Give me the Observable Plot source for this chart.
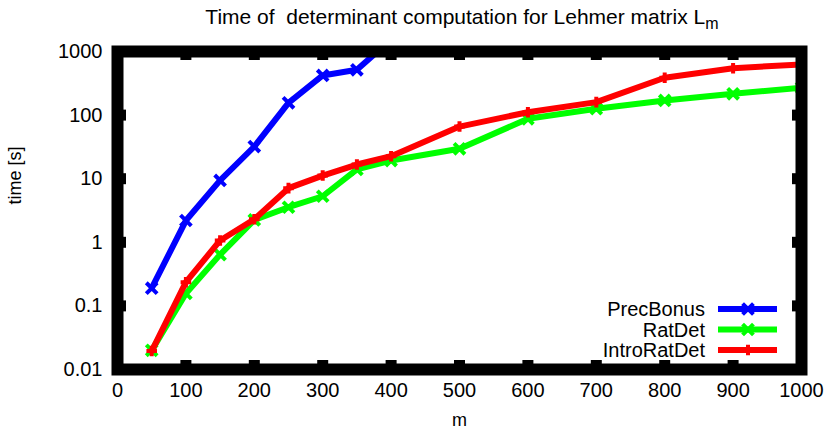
<!DOCTYPE html>
<html><head><meta charset="utf-8">
<script src="https://cdn.jsdelivr.net/npm/d3@7"></script>
<script src="https://cdn.jsdelivr.net/npm/@observablehq/plot@0.6"></script>
<style>
body{margin:0;background:#fff;}
svg{font-family:"Liberation Sans",Arial,Helvetica,sans-serif;}
</style>
</head><body><div id="chart"></div>
<script>
// ---- data ----
const precBonusM = [50,100,150,200,250,300,350,400];
const precBonus  = [0.19,2.2,9.4,32,156,420,515,1550];
const ratDetM    = [50,100,150,200,250,300,350,400,500,600,700,800,900,1000];
const ratDet     = [0.02,0.157,0.64,2.25,3.56,5.3,14,19.3,29.5,87.5,126,170,216,269];
const introM     = [50,100,150,200,250,300,350,400,500,600,700,800,900,1000];
const introRatDet= [0.0195,0.236,1.07,2.3,7.1,11.2,16.7,22.6,66,111,160,386,547,625];
const seriesNames  = ["PrecBonus","RatDet","IntroRatDet"];
const seriesColors = ["#0000ff","#00ff00","#ff0000"];
const seriesSymbols= ["times","times","plus"];
const xTicks = [0,100,200,300,400,500,600,700,800,900,1000];
const yTicks = [0.01,0.1,1,10,100,1000];
const yTickLabels = ["0.01","0.1","1","10","100","1000"];
const titleText = "Time of  determinant computation for Lehmer matrix L";
const titleSub = "m";
const xLabel = "m";
const yLabel = "time [s]";

const series = [
  precBonusM.map((m,i)=>({m, t: precBonus[i], s: seriesNames[0]})),
  ratDetM.map((m,i)=>({m, t: ratDet[i], s: seriesNames[1]})),
  introM.map((m,i)=>({m, t: introRatDet[i], s: seriesNames[2]}))
];

const W=827, H=430, ML=117, MR=26, MT=51, MB=61;
const frameH = H-MT-MB, frameW = W-ML-MR;
const tickLen = 9;
const font = 20;

const marks = [];
series.forEach((data,i)=>{
  marks.push(Plot.line(data,{x:"m",y:"t",stroke:seriesColors[i],strokeWidth:6,clip:true,strokeLinejoin:"miter",strokeLinecap:"butt"}));
  marks.push(Plot.dot(data,{x:"m",y:"t",stroke:seriesColors[i],symbol:seriesSymbols[i],r:i===2?3.5:5,strokeWidth:4,clip:true}));
});
marks.push(
  Plot.frame({stroke:"black",strokeWidth:12}),
  Plot.tickX(xTicks,{x:d=>d,stroke:"black",strokeWidth:11,insetBottom:frameH-tickLen}),
  Plot.tickX(xTicks,{x:d=>d,stroke:"black",strokeWidth:11,insetTop:frameH-tickLen}),
  Plot.tickY(yTicks,{y:d=>d,stroke:"black",strokeWidth:11,insetRight:frameW-tickLen}),
  Plot.tickY(yTicks,{y:d=>d,stroke:"black",strokeWidth:11,insetLeft:frameW-tickLen}),
  Plot.text(xTicks,{x:d=>d,text:d=>String(d),frameAnchor:"bottom",dy:27,fontSize:font,fill:"black"}),
  Plot.text(yTicks,{y:d=>d,text:(d,i)=>yTickLabels[i],frameAnchor:"left",dx:-15,textAnchor:"end",fontSize:font,fill:"black"}),
  Plot.text([yLabel],{text:d=>d,frameAnchor:"left",dx:-102,dy:-6,rotate:-90,fontSize:18,fill:"black"}),
  Plot.text([xLabel],{text:d=>d,frameAnchor:"bottom",dy:56,fontSize:18,fill:"black"})
);

const chart = Plot.plot({
  width:W,height:H,marginLeft:ML,marginRight:MR,marginTop:MT,marginBottom:MB,
  x:{domain:[0,1000],axis:null},
  y:{type:"log",domain:[0.01,1000],axis:null},
  style:{background:"white",fontFamily:'"Liberation Sans",Arial,sans-serif',overflow:"visible"},
  marks
});
document.getElementById("chart").appendChild(chart);

const svg = d3.select(chart);
// title with subscript
const t = svg.append("text")
  .attr("x",(ML+W-MR)/2+3).attr("y",24)
  .attr("text-anchor","middle").attr("font-size",21).attr("fill","black");
t.append("tspan").text(titleText);
t.append("tspan").attr("dy",5).attr("font-size",16).text(titleSub);

// legend
const lg = svg.append("g");
seriesNames.forEach((name,i)=>{
  const y = 309 + i*20.5;
  lg.append("text").attr("x",705).attr("y",y).attr("dy","0.35em")
    .attr("text-anchor","end").attr("font-size",font).attr("fill","black").text(name);
  lg.append("line").attr("x1",718).attr("x2",777).attr("y1",y).attr("y2",y)
    .attr("stroke",seriesColors[i]).attr("stroke-width",6);
  const r = i===2?3.5:5;
  const sym = seriesSymbols[i]==="plus"?d3.symbolPlus:d3.symbolTimes;
  lg.append("path").attr("transform",`translate(748,${y})`)
    .attr("d",d3.symbol(sym,Math.PI*r*r)()).attr("fill","none")
    .attr("stroke",seriesColors[i]).attr("stroke-width",4);
});
</script>
</body></html>
